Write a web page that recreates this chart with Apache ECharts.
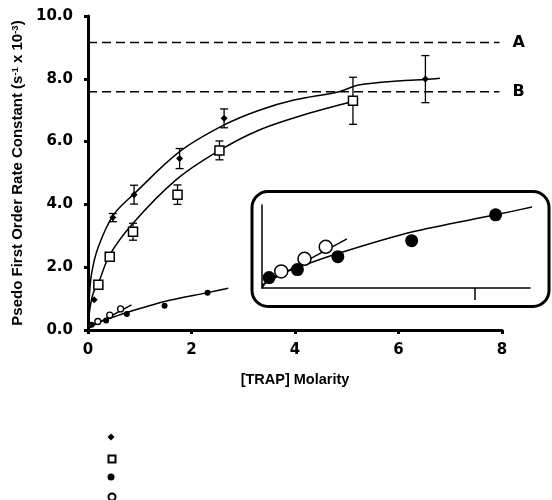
<!DOCTYPE html>
<html><head><meta charset="utf-8">
<script src="https://cdn.jsdelivr.net/npm/echarts@6/dist/echarts.min.js"></script>
<style>html,body{margin:0;padding:0;background:#fff}#c{width:552px;height:500px}</style>
</head><body><div id="c"></div>
<script>
// ---- data ----
const xTicks = [0, 2, 4, 6, 8];
const yTicks = [0, 2, 4, 6, 8, 10];
// filled diamonds
const diamondX = [0.12, 0.48, 0.89, 1.77, 2.63, 6.52];
const diamondY = [0.96, 3.58, 4.31, 5.46, 6.74, 7.99];
const diamondErr = [0, 0.13, 0.3, 0.32, 0.3, 0.75];
// open squares
const squareX = [0.2, 0.42, 0.87, 1.73, 2.54, 5.12];
const squareY = [1.44, 2.33, 3.13, 4.31, 5.72, 7.3];
const squareErr = [0, 0, 0.27, 0.31, 0.3, 0.75];
// filled circles
const filledX = [0.07, 0.35, 0.75, 1.48, 2.31];
const filledY = [0.17, 0.30, 0.51, 0.77, 1.19];
// open circles
const openX = [0.19, 0.42, 0.63];
const openY = [0.27, 0.475, 0.67];
// fitted curves
const diamondFitX = [0, 0.02, 0.07, 0.2, 0.49, 0.9, 1.77, 2.63, 3.31, 4.0, 4.85, 5.23, 6.06, 6.52, 6.8];
const diamondFitY = [0, 0.9, 1.8, 2.65, 3.66, 4.35, 5.68, 6.53, 7.0, 7.33, 7.59, 7.8, 7.94, 7.98, 8.02];
const squareFitX = [0, 0.03, 0.1, 0.2, 0.42, 0.87, 1.7, 2.5, 3.31, 4.27, 5.1];
const squareFitY = [0, 0.6, 1.17, 1.49, 2.39, 3.4, 4.78, 5.68, 6.37, 6.9, 7.27];
const filledFitX = [0, 0.07, 0.35, 0.75, 1.48, 2.31, 2.71];
const filledFitY = [0, 0.14, 0.33, 0.56, 0.91, 1.19, 1.33];
const openFitX = [0, 0.84];
const openFitY = [0.05, 0.8];
// reference levels
const refX = [0, 7.95];
const levelA = 9.16;
const levelB = 7.59;
const insetTick = [2.1];
const legendNames = ['diamond', 'square', 'filled', 'open'];

const zip = (xs, ys) => xs.map((x, i) => [x, ys[i]]);
const zip3 = (xs, ys, es) => xs.map((x, i) => [x, ys[i], es[i]]);
const FONT = 'Liberation Sans';
const TICKFONT = 'DejaVu Sans';

function errRender(params, api) {
  const x = api.value(0), y = api.value(1), e = api.value(2);
  if (!e) return null;
  const t = api.coord([x, y + e]), b = api.coord([x, y - e]);
  const w = 4;
  const st = {stroke: '#000', lineWidth: 1.3};
  return {type: 'group', children: [
    {type: 'line', shape: {x1: t[0], y1: t[1], x2: b[0], y2: b[1]}, style: st},
    {type: 'line', shape: {x1: t[0]-w, y1: t[1], x2: t[0]+w, y2: t[1]}, style: st},
    {type: 'line', shape: {x1: b[0]-w, y1: b[1], x2: b[0]+w, y2: b[1]}, style: st}
  ]};
}

const chart = echarts.init(document.getElementById('c'), null, {renderer: 'canvas'});
const curveStyle = {color: '#000', width: 1.5};
const legendTops = [433.5, 454.5, 473.5, 492.5];
const option = {
  animation: false,
  backgroundColor: '#fff',
  textStyle: {fontFamily: FONT},
  grid: [
    {left: 88, top: 16, width: 414, height: 314},
    {left: 262, top: 205, width: 268, height: 83}
  ],
  graphic: [{
    type: 'rect', z: 0,
    shape: {x: 252, y: 191.5, width: 297, height: 115, r: 16},
    style: {fill: 'none', stroke: '#000', lineWidth: 3}
  }],
  legend: legendNames.map((n, i) => ({
    left: 107.5, top: legendTops[i], padding: 0,
    itemWidth: 7, itemHeight: 7, itemGap: 0,
    data: [n], formatter: () => '',
    textStyle: {fontSize: 5, lineHeight: 5}
  })),
  xAxis: [{
    gridIndex: 0, type: 'value', min: 0, max: 8, interval: 2,
    name: '[TRAP] Molarity', nameLocation: 'middle', nameGap: 42,
    nameTextStyle: {fontSize: 14.5, fontWeight: 'bold', color: '#000', fontFamily: FONT},
    axisLine: {lineStyle: {color: '#000', width: 3}},
    axisTick: {length: 4, lineStyle: {color: '#000', width: 3}},
    axisLabel: {margin: 13, fontSize: 15, fontWeight: 'bold', color: '#000', fontFamily: TICKFONT,
      formatter: v => xTicks.includes(v) ? String(v) : ''},
    splitLine: {show: false}
  }, {
    gridIndex: 1, type: 'value', min: 0, max: 2.65,
    axisLine: {lineStyle: {color: '#000', width: 1.5}},
    axisTick: {show: true, customValues: insetTick, length: 12, lineStyle: {color: '#000', width: 1.5}},
    axisLabel: {show: false}, splitLine: {show: false}
  }],
  yAxis: [{
    gridIndex: 0, type: 'value', min: 0, max: 10, interval: 2,
    name: 'Psedo First Order Rate Constant (s{sup|-1} x 10{sup|-3})',
    nameLocation: 'middle', nameGap: 62,
    nameTextStyle: {fontSize: 15, fontWeight: 'bold', color: '#000', fontFamily: FONT,
      rich: {sup: {fontSize: 9.5, fontWeight: 'bold', verticalAlign: 'top', fontFamily: FONT, color: '#000'}}},
    axisLine: {lineStyle: {color: '#000', width: 3}},
    axisTick: {length: 4, lineStyle: {color: '#000', width: 3}},
    axisLabel: {margin: 15, fontSize: 15, fontWeight: 'bold', color: '#000', fontFamily: TICKFONT,
      formatter: v => yTicks.includes(v) ? v.toFixed(1) : ''},
    splitLine: {show: false}
  }, {
    gridIndex: 1, type: 'value', min: 0, max: 1.35,
    axisLine: {lineStyle: {color: '#000', width: 1.5}},
    axisTick: {show: false}, axisLabel: {show: false}, splitLine: {show: false}
  }],
  series: [
    // reference levels
    {type: 'line', xAxisIndex: 0, yAxisIndex: 0, data: refX.map(x => [x, levelA]), showSymbol: false,
      lineStyle: {color: '#000', width: 1.5, type: [9, 5]},
      endLabel: {show: true, formatter: 'A', fontSize: 16, fontWeight: 'bold', color: '#000', distance: 13, fontFamily: TICKFONT}},
    {type: 'line', xAxisIndex: 0, yAxisIndex: 0, data: refX.map(x => [x, levelB]), showSymbol: false,
      lineStyle: {color: '#000', width: 1.5, type: [9, 5]},
      endLabel: {show: true, formatter: 'B', fontSize: 16, fontWeight: 'bold', color: '#000', distance: 13, fontFamily: TICKFONT}},
    // fits
    {type: 'line', smooth: 0.35, showSymbol: false, data: zip(diamondFitX, diamondFitY), lineStyle: curveStyle},
    {type: 'line', smooth: 0.35, showSymbol: false, data: zip(squareFitX, squareFitY), lineStyle: curveStyle},
    {type: 'line', smooth: 0.3, showSymbol: false, data: zip(filledFitX, filledFitY), lineStyle: curveStyle},
    {type: 'line', showSymbol: false, data: zip(openFitX, openFitY), lineStyle: curveStyle},
    // error bars
    {type: 'custom', renderItem: errRender, data: zip3(diamondX, diamondY, diamondErr), z: 3},
    {type: 'custom', renderItem: errRender, data: zip3(squareX, squareY, squareErr), z: 3},
    // points
    {name: 'diamond', type: 'scatter', symbol: 'diamond', symbolSize: 7, data: zip(diamondX, diamondY),
      itemStyle: {color: '#000', opacity: 1}, z: 5},
    {name: 'square', type: 'scatter', symbol: 'rect', symbolSize: 9, data: zip(squareX, squareY),
      itemStyle: {color: '#fff', borderColor: '#000', borderWidth: 1.5, opacity: 1}, z: 5},
    {name: 'filled', type: 'scatter', symbol: 'circle', symbolSize: 6, data: zip(filledX, filledY),
      itemStyle: {color: '#000', opacity: 1}, z: 5},
    {name: 'open', type: 'scatter', symbol: 'circle', symbolSize: 6, data: zip(openX, openY),
      itemStyle: {color: '#fff', borderColor: '#000', borderWidth: 1.3, opacity: 1}, z: 5},
    // inset
    {type: 'line', xAxisIndex: 1, yAxisIndex: 1, clip: false, smooth: 0.3, showSymbol: false,
      data: zip(filledFitX, filledFitY), lineStyle: curveStyle},
    {type: 'line', xAxisIndex: 1, yAxisIndex: 1, clip: false, showSymbol: false,
      data: zip(openFitX, openFitY), lineStyle: curveStyle},
    {name: 'inset filled', type: 'scatter', xAxisIndex: 1, yAxisIndex: 1, symbol: 'circle', symbolSize: 13,
      data: zip(filledX, filledY), itemStyle: {color: '#000', opacity: 1}, z: 5},
    {name: 'inset open', type: 'scatter', xAxisIndex: 1, yAxisIndex: 1, symbol: 'circle', symbolSize: 13,
      data: zip(openX, openY), itemStyle: {color: '#fff', borderColor: '#000', borderWidth: 1.5, opacity: 1}, z: 6}
  ]
};
chart.setOption(option);
</script></body></html>
